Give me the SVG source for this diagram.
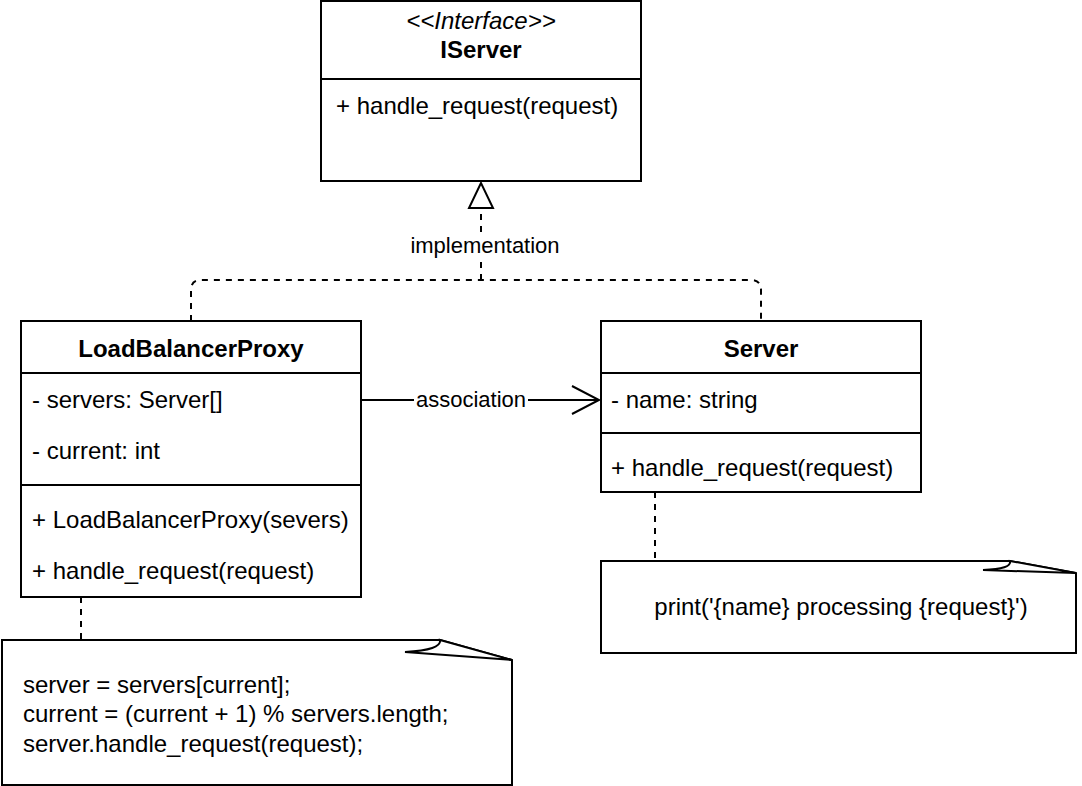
<svg xmlns="http://www.w3.org/2000/svg" width="1082" height="786" viewBox="0 0 1082 786">
<style>
.box{fill:#fff;stroke:#000;stroke-width:2}
.ln{fill:none;stroke:#000;stroke-width:2}
.dash{fill:none;stroke:#000;stroke-width:2;stroke-dasharray:6 6}
text{font-family:"Liberation Sans",Arial,Helvetica,sans-serif;font-size:24px;fill:#000}
.b{font-weight:bold}
.c{text-anchor:middle}
.lbl{font-size:22px;text-anchor:middle}
</style>
<rect width="1082" height="786" fill="#fff"/>
<g id="connectors">
  <path class="dash" d="M191 321 L191 290 Q191 280 201 280 L751 280 Q761 280 761 290 L761 321"/>
  <path class="dash" d="M481 280 L481 208"/>
  <polygon class="box" points="481,183 469,208 493,208"/>
  <rect x="408" y="232" width="154" height="26" fill="#fff"/>
  <text class="lbl" x="485" y="253">implementation</text>
  <path class="ln" d="M361 400 L599 400"/>
  <polyline class="ln" points="572,386 599,400 572,414"/>
  <rect x="414" y="388" width="114" height="24" fill="#fff"/>
  <text class="lbl" x="471" y="407">association</text>
  <path class="dash" d="M81 597 L81 640"/>
  <path class="dash" d="M655 492 L655 561"/>
</g>
<g id="IServer">
  <rect class="box" x="321" y="1" width="320" height="180"/>
  <line class="ln" x1="321" y1="79" x2="641" y2="79"/>
  <text class="c" x="481" y="29" font-style="italic">&lt;&lt;Interface&gt;&gt;</text>
  <text class="c b" x="481" y="58">IServer</text>
  <text x="336" y="114">+ handle_request(request)</text>
</g>
<g id="LoadBalancerProxy">
  <rect class="box" x="21" y="321" width="340" height="276"/>
  <line class="ln" x1="21" y1="373" x2="361" y2="373"/>
  <line class="ln" x1="21" y1="485" x2="361" y2="485"/>
  <text class="c b" x="191" y="357">LoadBalancerProxy</text>
  <text x="32" y="408">- servers: Server[]</text>
  <text x="32" y="459">- current: int</text>
  <text x="32" y="528">+ LoadBalancerProxy(severs)</text>
  <text x="32" y="579">+ handle_request(request)</text>
</g>
<g id="Server">
  <rect class="box" x="601" y="321" width="320" height="171"/>
  <line class="ln" x1="601" y1="373" x2="921" y2="373"/>
  <line class="ln" x1="601" y1="433" x2="921" y2="433"/>
  <text class="c b" x="761" y="357">Server</text>
  <text x="611" y="408">- name: string</text>
  <text x="611" y="476">+ handle_request(request)</text>
</g>
<g id="note-proxy">
  <path class="box" d="M2 640 L440 640 L512 660 L512 785 L2 785 Z"/>
  <path class="box" d="M440 640 Q442 650 405 652 L512 660 Z"/>
  <text x="23" y="693">server = servers[current];</text>
  <text x="23" y="722">current = (current + 1) % servers.length;</text>
  <text x="23" y="752">server.handle_request(request);</text>
</g>
<g id="note-server">
  <path class="box" d="M601 561 L1010 561 L1076 573 L1076 653 L601 653 Z"/>
  <path class="box" d="M1010 561 Q1012 569 983 570 L1076 573 Z"/>
  <text class="c" x="841" y="615">print('{name} processing {request}')</text>
</g>
</svg>
